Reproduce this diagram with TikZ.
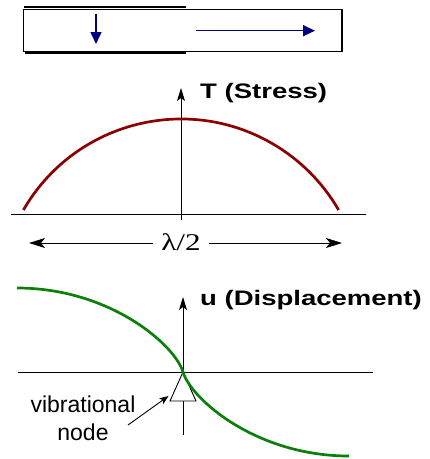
\documentclass[tikz,border=0pt]{standalone}
\usepackage{fontspec}
\setmainfont{Liberation Sans}
\newfontfamily\lamfont{Liberation Serif}
\usetikzlibrary{arrows.meta,positioning}
\definecolor{BarNavy}{HTML}{000080}
\definecolor{StressRed}{HTML}{8B0000}
\definecolor{DispGreen}{HTML}{0A7F0A}

\begin{document}
\begin{tikzpicture}[x=1pt, y=-1pt,
  axis/.style={-{Stealth[length=13pt, width=8pt, inset=3pt]}, line width=0.9pt},
  plain/.style={line width=0.9pt},
  dim/.style={-{Stealth[length=16pt, width=10pt, inset=4pt]}, line width=0.9pt},
  pointer/.style={-{Stealth[length=9pt, width=7pt, inset=2pt]}, line width=0.9pt},
  motion/.style={-{Triangle[length=12pt, width=11pt]}, line width=1.5pt, color=BarNavy},
  stress/.style={line width=2.7pt, color=StressRed},
  disp/.style={line width=2.7pt, color=DispGreen},
  biglabel/.style={inner sep=0pt, font=\fontsize{21}{25}\selectfont\bfseries},
  smalllabel/.style={inner sep=0pt, align=center, font=\fontsize{23}{28}\selectfont}
]
\useasboundingbox (0,0) rectangle (430,459);

% bar
\draw[line width=1pt] (23,9) rectangle (341,51);
\draw[line width=2.5pt] (24,7) -- (186,7);
\draw[line width=3pt] (25,52.5) -- (186,52.5);
\draw[line width=2.5pt] (342,9) -- (342,51.5);
\coordinate (down0) at (96,14);
\coordinate (down1) at (96,44);
\coordinate (push0) at (196,30.7);
\coordinate (push1) at (315,30.7);
\draw[motion] (down0) -- (down1);
\draw[motion] (push0) -- (push1);

% stress
\coordinate (sx0) at (11,214);
\coordinate (sx1) at (366,214);
\coordinate (sy0) at (181,220);
\coordinate (sy1) at (181,88);
\draw[plain] (sx0) -- (sx1);
\draw[axis] (sy0) -- (sy1);
\node[biglabel, anchor=base west] (tlab) at (200,98.3) {\scalebox{1.31}[1]{T (Stress)}};
\draw[stress] (23.4,210) arc[start angle=210, end angle=330, radius=182];

\coordinate (lamL) at (29,243);
\coordinate (lamR) at (342,243);
\node[anchor=base, inner xsep=8pt, inner ysep=0pt, font=\fontsize{24}{28}\selectfont\lamfont] (half) at (181,250) {\scalebox{1.3}[1]{λ/2}};
\draw[dim] (half.west |- lamL) -- (lamL);
\draw[dim] (half.east |- lamR) -- (lamR);

% displacement
\coordinate (ux0) at (18,372);
\coordinate (ux1) at (373,372);
\coordinate (uy0) at (183,435);
\coordinate (uy1) at (183,297);
\draw[plain] (ux0) -- (ux1);
\draw[axis] (uy0) -- (uy1);
\node[biglabel, anchor=base west] (ulab) at (200,305.7) {\scalebox{1.31}[1]{u (Displacement)}};

\coordinate (apex) at (183,372);
\coordinate (baseL) at (170,401);
\coordinate (baseR) at (196,401);
\draw[plain, fill=white] (apex) -- (baseL) -- (baseR) -- cycle;
\draw[disp] (17,288) .. controls (110,288) and (175,345) .. (apex)
  .. controls (191,399) and (256,456) .. (349,456);

\node[smalllabel, anchor=base] (vib) at (83,440) {vibrational\\node};
\coordinate (ptr) at (128,425);
\coordinate (tritip) at (168.5,396);
\draw[pointer] (ptr) -- (tritip);
\end{tikzpicture}
\end{document}
